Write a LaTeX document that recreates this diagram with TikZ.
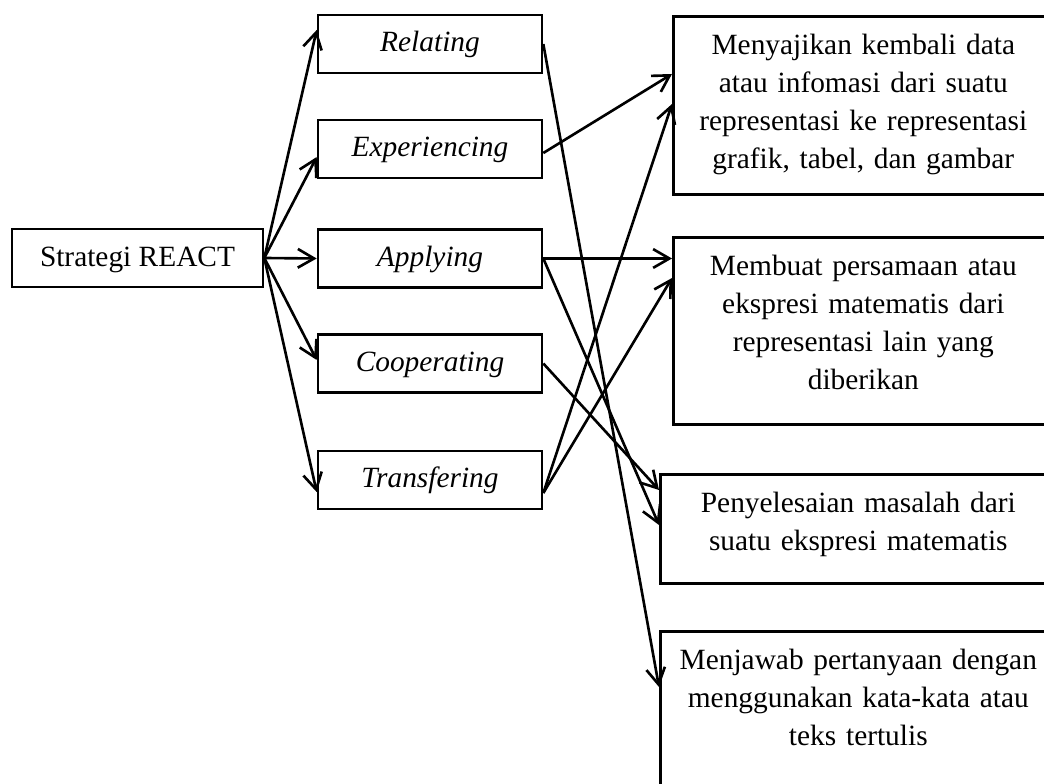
\documentclass[tikz,border=0pt]{standalone}
\usepackage{fontspec}
\setmainfont{Liberation Serif}
\usetikzlibrary{arrows.meta}

\begin{document}
\begin{tikzpicture}[x=0.4pt,y=-0.4pt,line width=1.05pt]
        \tikzstyle{every node}=[draw,rectangle,inner sep=0pt,font=\fontsize{11.75}{15.2}\selectfont]
        \tikzstyle{stage}=[minimum width=89.6pt,minimum height=23.2pt,text height=8pt,text depth=1.6pt,font=\fontsize{11.75}{15.2}\selectfont\itshape]
        \tikzstyle{goal}=[anchor=north west,align=center,inner xsep=0pt,inner ysep=7.2pt,text height=8pt]
        \tikzstyle{link}=[-{Straight Barb[length=6.5pt,width=7.5pt]}]
        \useasboundingbox (0,0) rectangle (1044,784);
        \clip (0,0) rectangle (1044,784);
        % strategy and its five stages
        \node[minimum width=100.4pt,minimum height=23.2pt,text height=8pt,text depth=1pt] (react) at (137.5,258) {Strategi REACT};
        \node[stage] (rel) at (430,44) {Relating};
        \node[stage] (exp) at (430,149) {Experiencing};
        \node[stage] (app) at (430,258.5) {Applying};
        \node[stage] (coop) at (430,363.5) {Cooperating};
        \node[stage] (trans) at (430,480) {Transfering};
        % indicators
        \node[goal,text width=152pt,text depth=48.8pt] (ind1) at (672,15) {Menyajikan kembali data\\ atau infomasi dari suatu\\ representasi ke representasi\\ grafik, tabel, dan gambar};
        \node[goal,text width=152pt,text depth=52.4pt] (ind2) at (672,236) {Membuat persamaan atau\\ ekspresi matematis dari\\ representasi lain yang\\ diberikan};
        \node[goal,text width=158.4pt,text depth=21.2pt] (ind3) at (659,473) {Penyelesaian masalah dari\\ suatu ekspresi matematis};
        \node[goal,text width=158.4pt,text depth=45.6pt] (ind4) at (659,630) {Menjawab pertanyaan dengan\\ menggunakan kata-kata atau\\ teks tertulis};
        % strategy -> stages
        \draw[link] (react.east) -- ([yshift=5.6pt]rel.west);
        \draw[link] (react.east) -- ([yshift=-3.2pt]exp.west);
        \draw[link] (react.east) -- (app.west);
        \draw[link] (react.east) -- ([yshift=1.4pt]coop.west);
        \draw[link] (react.east) -- ([yshift=-4.8pt]trans.west);
        % stages -> indicators
        \draw[link] (rel.east) -- ([yshift=-22.8pt]ind4.north west);
        \draw[link] ([yshift=-1.6pt]exp.east) -- ([yshift=-23.6pt]ind1.north west);
        \draw[link] (app.east) -- (app.east -| ind2.west);
        \draw[link] (app.east) -- ([yshift=-20.8pt]ind3.north west);
        \draw[link] (coop.east) -- ([yshift=-6.8pt]ind3.north west);
        \draw[link] ([yshift=-5.2pt]trans.east) -- ([yshift=-35.6pt]ind1.north west);
        \draw[link] ([yshift=-5.2pt]trans.east) -- ([yshift=-16.8pt]ind2.north west);
\end{tikzpicture}
\end{document}
